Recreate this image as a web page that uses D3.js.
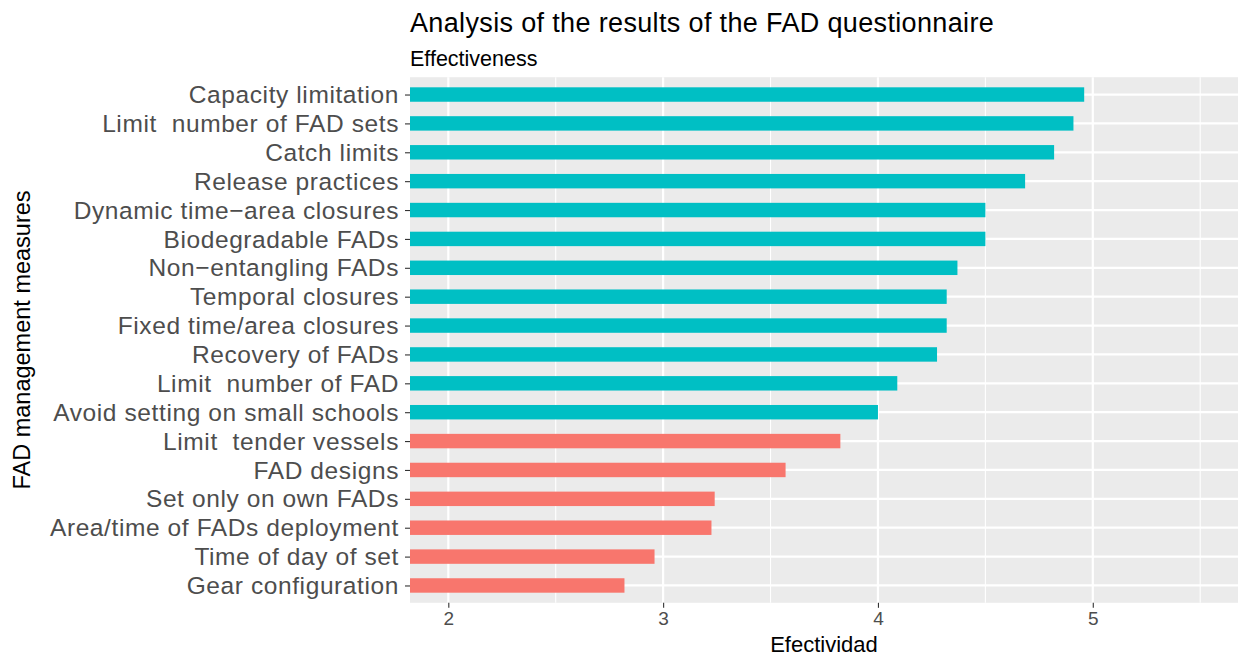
<!DOCTYPE html>
<html>
<head>
<meta charset="utf-8">
<script src="https://cdn.jsdelivr.net/npm/d3@7"></script>
<style>
  body { margin: 0; background: #fff; }
  svg { display: block; font-family: "Liberation Sans", Arial, sans-serif; }
</style>
</head>
<body>
<svg id="chart" width="1245" height="658"></svg>
<script>
// Data (top to bottom)
const categories = [
  "Capacity limitation",
  "Limit  number of FAD sets",
  "Catch limits",
  "Release practices",
  "Dynamic time\u2212area closures",
  "Biodegradable FADs",
  "Non\u2212entangling FADs",
  "Temporal closures",
  "Fixed time/area closures",
  "Recovery of FADs",
  "Limit  number of FAD",
  "Avoid setting on small schools",
  "Limit  tender vessels",
  "FAD designs",
  "Set only on own FADs",
  "Area/time of FADs deployment",
  "Time of day of set",
  "Gear configuration"
];
const values = [4.96, 4.91, 4.82, 4.685, 4.50, 4.50, 4.37, 4.32, 4.32, 4.275, 4.09, 4.00, 3.825, 3.57, 3.24, 3.225, 2.96, 2.82];
const groups = ["high","high","high","high","high","high","high","high","high","high","high","high","low","low","low","low","low","low"];
const xTicks = [2, 3, 4, 5];
const xMinor = [2.5, 3.5, 4.5, 5.5];
const titleText = "Analysis of the results of the FAD questionnaire";
const subtitleText = "Effectiveness";
const xTitle = "Efectividad";
const yTitle = "FAD management measures";

const colors = { high: "#00BFC4", low: "#F8766D" };

const svg = d3.select("#chart");
const panel = { left: 410, right: 1238, top: 77.2, bottom: 602.8 };

const x = d3.scaleLinear().domain([1.8217, 5.676]).range([panel.left, panel.right]);
const n = categories.length;
const step = (panel.bottom - panel.top) / (n - 1 + 1.2);
const yPos = d3.scalePoint().domain(categories)
  .range([panel.top + 0.6 * step, panel.bottom - 0.6 * step]);

// Panel background
svg.append("rect").attr("x", panel.left).attr("y", panel.top)
  .attr("width", panel.right - panel.left).attr("height", panel.bottom - panel.top)
  .attr("fill", "#EBEBEB");

const g = svg.append("g");
// minor grid
g.selectAll(".minor").data(xMinor).enter().append("line")
  .attr("x1", d => x(d)).attr("x2", d => x(d))
  .attr("y1", panel.top).attr("y2", panel.bottom)
  .attr("stroke", "#fff").attr("stroke-width", 1.1);
// major grid vertical
g.selectAll(".majorx").data(xTicks).enter().append("line")
  .attr("x1", d => x(d)).attr("x2", d => x(d))
  .attr("y1", panel.top).attr("y2", panel.bottom)
  .attr("stroke", "#fff").attr("stroke-width", 2.2);
// major grid horizontal
g.selectAll(".majory").data(categories).enter().append("line")
  .attr("x1", panel.left).attr("x2", panel.right)
  .attr("y1", d => yPos(d)).attr("y2", d => yPos(d))
  .attr("stroke", "#fff").attr("stroke-width", 2.2);

// bars
const barH = step * 0.5;
g.selectAll(".bar").data(categories).enter().append("rect")
  .attr("x", x.range()[0])
  .attr("y", d => yPos(d) - barH / 2)
  .attr("width", (d, i) => x(values[i]) - x.range()[0])
  .attr("height", barH)
  .attr("fill", (d, i) => colors[groups[i]]);

// y axis
const yAxis = d3.axisLeft(yPos).tickSize(5).tickPadding(6);
const ya = svg.append("g").attr("transform", `translate(${panel.left},0)`).call(yAxis);
ya.select(".domain").remove();
ya.selectAll(".tick line").attr("stroke", "#333333").attr("stroke-width", 1.1);
ya.selectAll(".tick text").attr("fill", "#4D4D4D").style("font-size", "24.5px")
  .style("letter-spacing", "0.6px")
  .style("font-family", "'Liberation Sans', Arial, sans-serif")
  .attr("dy", "0.33em").style("white-space", "pre");

// x axis
const xAxis = d3.axisBottom(x).tickValues(xTicks).tickFormat(d3.format("d")).tickSize(5).tickPadding(4);
const xa = svg.append("g").attr("transform", `translate(0,${panel.bottom})`).call(xAxis);
xa.select(".domain").remove();
xa.selectAll(".tick line").attr("stroke", "#333333").attr("stroke-width", 1.1);
xa.selectAll(".tick text").attr("fill", "#4D4D4D").style("font-size", "19px")
  .style("font-family", "'Liberation Sans', Arial, sans-serif");

// titles
svg.append("text").attr("x", panel.left).attr("y", 32)
  .style("font-size", "27px").style("letter-spacing", "0.35px").attr("fill", "#000").text(titleText);
svg.append("text").attr("x", panel.left).attr("y", 66)
  .style("font-size", "21.5px").attr("fill", "#000").text(subtitleText);
svg.append("text").attr("x", (panel.left + panel.right) / 2).attr("y", 652)
  .attr("text-anchor", "middle").style("font-size", "22px").attr("fill", "#000").text(xTitle);
svg.append("text").attr("transform", `translate(30,${(panel.top + panel.bottom) / 2}) rotate(-90)`)
  .attr("text-anchor", "middle").style("font-size", "23.5px").attr("fill", "#000").text(yTitle);
</script>
</body>
</html>
